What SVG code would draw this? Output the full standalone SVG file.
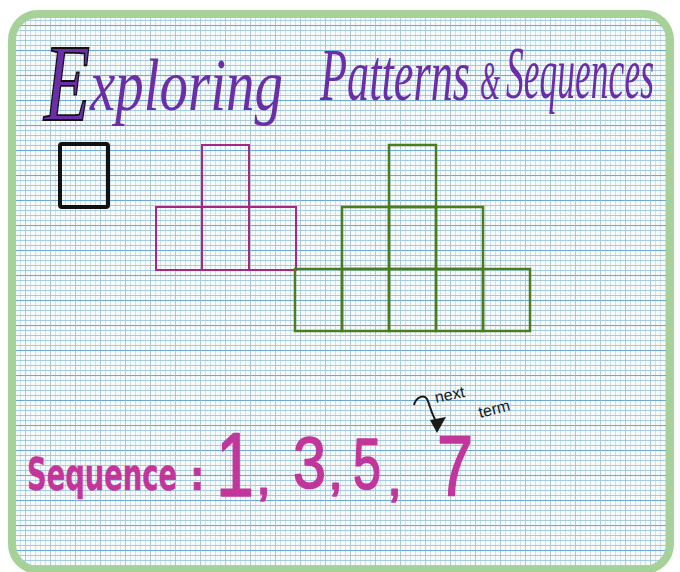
<svg xmlns="http://www.w3.org/2000/svg" width="680" height="572" viewBox="0 0 680 572">
  <defs>
    <pattern id="grid" x="0" y="0" width="5" height="5" patternUnits="userSpaceOnUse">
      <rect width="5" height="5" fill="#f6fafb"/>
      <line x1="0.5" y1="0" x2="0.5" y2="5" stroke="#c4d7dd" stroke-width="0.7"/>
      <line x1="0" y1="0.5" x2="5" y2="0.5" stroke="#9cc6e2" stroke-width="0.9"/>
    </pattern>
    <pattern id="major" x="0" y="0" width="25" height="25" patternUnits="userSpaceOnUse">
      <line x1="0" y1="0.5" x2="25" y2="0.5" stroke="#6ea8d6" stroke-width="1.1"/>
      <line x1="0.5" y1="0" x2="0.5" y2="25" stroke="#a5bfca" stroke-width="0.7"/>
    </pattern>
    <clipPath id="paperclip">
      <rect x="12" y="14" width="658" height="554" rx="26"/>
    </clipPath>
  </defs>
  <style>
    .title { font-family: "Liberation Serif", "DejaVu Serif", serif; font-style: italic; fill: #6a2fa8; }
    .seq { font-family: "DejaVu Sans Condensed", "Liberation Sans", sans-serif; fill: #c2369b; stroke: #c2369b; }
    .num { font-family: "Liberation Sans", "DejaVu Sans", sans-serif; fill: #c2369b; stroke: #c2369b; stroke-width: 1.6; stroke-linejoin: round; }
    .note { font-family: "Liberation Sans", "DejaVu Sans", sans-serif; fill: #1a1a1a; font-size: 16px; }
    .mag { fill: none; stroke: #a62884; stroke-width: 2; }
    .grn { fill: none; stroke: #4a7d1e; stroke-width: 2.5; }
  </style>

  <rect width="680" height="572" fill="#ffffff"/>
  <g clip-path="url(#paperclip)">
    <rect x="12" y="14" width="658" height="554" fill="url(#grid)"/>
    <rect x="12" y="14" width="658" height="554" fill="url(#major)"/>
  </g>
  <rect id="frame" x="12" y="14" width="658" height="556" rx="26" fill="none" stroke="#a6d198" stroke-width="8"/>

  <g id="title">
    <text x="44" y="120" font-size="110" class="title" fill="#b595e0" stroke="#111111" stroke-width="1.8" textLength="46" lengthAdjust="spacingAndGlyphs">E</text>
    <text x="90" y="110" font-size="74" class="title" textLength="193" lengthAdjust="spacingAndGlyphs">xploring</text>
    <text x="320" y="100" font-size="74" class="title" textLength="150" lengthAdjust="spacingAndGlyphs">Patterns</text>
    <text x="480" y="99" font-size="54" class="title" textLength="20" lengthAdjust="spacingAndGlyphs">&amp;</text>
    <text x="506" y="98" font-size="74" class="title" textLength="148" lengthAdjust="spacingAndGlyphs">Sequences</text>
  </g>

  <g id="term-1">
    <rect x="60" y="144" width="48" height="63" fill="none" stroke="#111111" stroke-width="4" rx="2"/>
  </g>

  <g id="term-3">
    <rect x="202" y="145" width="47" height="62" class="mag"/>
    <rect x="156" y="207" width="46" height="63" class="mag"/>
    <rect x="202" y="207" width="47" height="63" class="mag"/>
    <rect x="249" y="207" width="47" height="63" class="mag"/>
  </g>

  <g id="term-5">
    <rect x="389" y="145" width="47" height="62" class="grn"/>
    <rect x="342" y="207" width="47" height="62" class="grn"/>
    <rect x="389" y="207" width="47" height="62" class="grn"/>
    <rect x="436" y="207" width="47" height="62" class="grn"/>
    <rect x="295" y="269" width="47" height="62" class="grn"/>
    <rect x="342" y="269" width="47" height="62" class="grn"/>
    <rect x="389" y="269" width="47" height="62" class="grn"/>
    <rect x="436" y="269" width="47" height="62" class="grn"/>
    <rect x="483" y="269" width="47" height="62" class="grn"/>
  </g>

  <g id="sequence">
    <text x="27" y="490" font-size="44" font-weight="bold" class="seq" stroke-width="0.4" textLength="150" lengthAdjust="spacingAndGlyphs">Sequence</text>
    <text x="190" y="490" font-size="40" font-weight="bold" class="seq" stroke-width="0.4">:</text>
    <text x="216" y="496" font-size="90" class="num" textLength="38" lengthAdjust="spacingAndGlyphs">1</text>
    <text x="256" y="494" font-size="54" class="num">,</text>
    <text x="293" y="488" font-size="72" class="num" textLength="33" lengthAdjust="spacingAndGlyphs">3</text>
    <text x="328" y="489" font-size="54" class="num">,</text>
    <text x="353" y="489" font-size="72" class="num" textLength="28" lengthAdjust="spacingAndGlyphs">5</text>
    <text x="387" y="495" font-size="54" class="num">,</text>
    <text x="437" y="495" font-size="86" class="num" textLength="36" lengthAdjust="spacingAndGlyphs">7</text>
  </g>

  <g id="connectors">
    <path d="M414,405 C416,397 424,394 427,399 C430,405 431,413 436,421" fill="none" stroke="#1a1a1a" stroke-width="2"/>
    <polygon points="430,420 446,417 437,433" fill="#1a1a1a"/>
  </g>

  <g id="note">
    <text x="436" y="403" class="note" transform="rotate(-12 436 403)">next</text>
    <text x="480" y="418" class="note" font-size="15" transform="rotate(-14 480 418)">term</text>
  </g>
</svg>
